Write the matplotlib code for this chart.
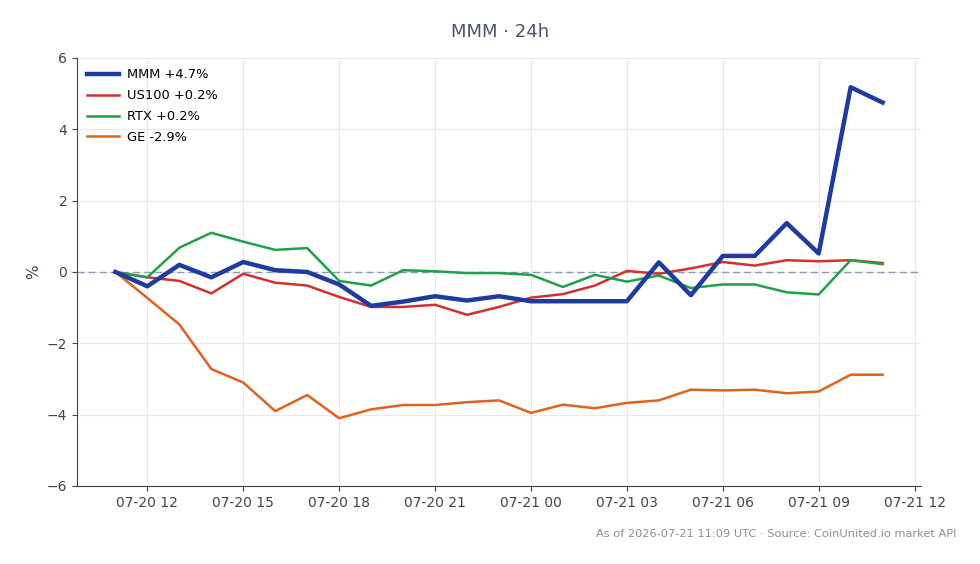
import numpy as np
import pandas as pd
import matplotlib
matplotlib.use("Agg")
import matplotlib.pyplot as plt
import matplotlib.dates as mdates

times = pd.date_range("2026-07-20 11:00", "2026-07-21 11:00", freq="h")

mmm = [0.0, -0.40, 0.20, -0.15, 0.28, 0.05, 0.0, -0.35, -0.95, -0.83, -0.68, -0.80, -0.68,
       -0.82, -0.82, -0.82, -0.82, 0.27, -0.65, 0.45, 0.45, 1.37, 0.52, 5.18, 4.75]
us100 = [0.0, -0.15, -0.25, -0.60, -0.05, -0.30, -0.38, -0.70, -0.98, -0.98, -0.92, -1.20, -0.98,
         -0.72, -0.62, -0.38, 0.03, -0.05, 0.10, 0.28, 0.18, 0.33, 0.30, 0.33, 0.25]
rtx = [0.0, -0.15, 0.68, 1.10, 0.85, 0.62, 0.67, -0.25, -0.38, 0.05, 0.02, -0.03, -0.03,
       -0.08, -0.42, -0.08, -0.27, -0.10, -0.45, -0.35, -0.35, -0.57, -0.63, 0.33, 0.22]
ge = [0.0, -0.73, -1.47, -2.72, -3.10, -3.90, -3.45, -4.10, -3.85, -3.73, -3.73, -3.65, -3.60,
      -3.95, -3.72, -3.82, -3.67, -3.60, -3.30, -3.32, -3.30, -3.40, -3.35, -2.88, -2.88]

labels = ["MMM +4.7%", "US100 +0.2%", "RTX +0.2%", "GE -2.9%"]

fig = plt.figure(figsize=(9.8, 5.64), dpi=100)
ax = fig.add_axes([0.0786, 0.1383, 0.8612, 0.7589])

ax.plot(times, mmm, color="#1f3b9e", lw=3.2, label=labels[0], zorder=5)
ax.plot(times, us100, color="#d3302f", lw=1.8, label=labels[1], zorder=4)
ax.plot(times, rtx, color="#21a04b", lw=1.8, label=labels[2], zorder=4)
ax.plot(times, ge, color="#e0621f", lw=1.8, label=labels[3], zorder=4)
ax.axhline(0, color="#8a9ab0", lw=1, ls=(0, (5, 3)), zorder=2)

ax.set_ylim(-6, 6)
ax.set_yticks([-6, -4, -2, 0, 2, 4, 6])
ax.set_yticklabels(["\u22126", "\u22124", "\u22122", "0", "2", "4", "6"])
ax.xaxis.set_major_locator(mdates.HourLocator(byhour=[0, 3, 6, 9, 12, 15, 18, 21]))
ax.xaxis.set_major_formatter(mdates.DateFormatter("%m-%d %H"))

ax.grid(True, color="#e8eaee", lw=0.8)
ax.set_axisbelow(True)
for s in ["top", "right"]:
    ax.spines[s].set_visible(False)
for s in ["left", "bottom"]:
    ax.spines[s].set_color("#3c4451")
ax.tick_params(colors="#3c4451", labelsize=10, labelcolor="#3c4451")
ax.set_ylabel("%", color="#3c4451", fontsize=11)

fig.text(0.51, 0.943, "MMM \u00b7 24h", ha="center", va="center", fontsize=13, color="#4a5566")
fig.text(0.976, 0.053, "As of 2026-07-21 11:09 UTC \u00b7 Source: CoinUnited.io market API",
         ha="right", va="center", fontsize=8.2, color="#8a8f99")

ax.legend(loc="upper left", frameon=False, fontsize=9.4, handlelength=2.4,
          handletextpad=0.65, labelspacing=0.6, borderaxespad=0.4)

fig.savefig("out.png", dpi=100)
